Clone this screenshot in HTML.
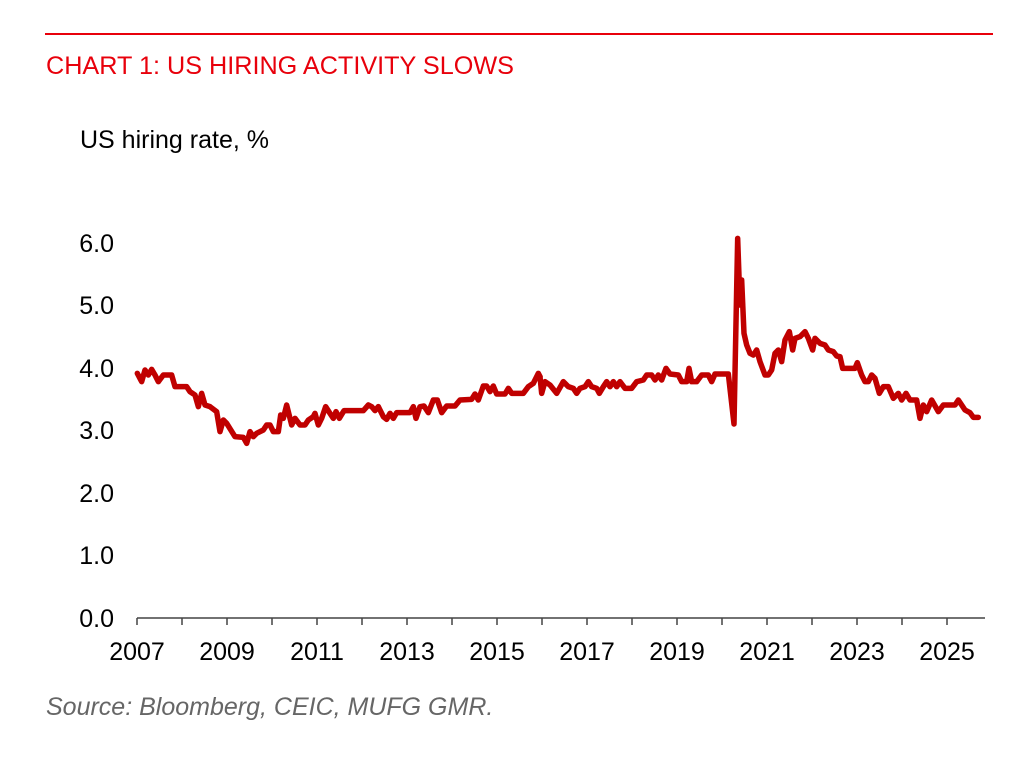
<!DOCTYPE html>
<html><head><meta charset="utf-8"><style>
body{margin:0;background:#fff;width:1022px;height:752px;overflow:hidden;font-family:"Liberation Sans",Arial,sans-serif}
</style></head><body>
<svg width="1022" height="752" xmlns="http://www.w3.org/2000/svg" font-family="Liberation Sans, Arial, sans-serif">
<line x1="45" y1="34" x2="993" y2="34" stroke="#e8000b" stroke-width="2"/>
<text x="46" y="74" font-size="25" fill="#e8000b" textLength="468" lengthAdjust="spacingAndGlyphs">CHART 1: US HIRING ACTIVITY SLOWS</text>
<text x="80" y="148" font-size="25" fill="#000">US hiring rate, %</text>
<g font-size="25" fill="#000" text-anchor="end">
<text x="114" y="252">6.0</text><text x="114" y="314">5.0</text><text x="114" y="377">4.0</text>
<text x="114" y="439">3.0</text><text x="114" y="502">2.0</text><text x="114" y="564">1.0</text><text x="114" y="627">0.0</text>
</g>
<line x1="137" y1="618" x2="985" y2="618" stroke="#444" stroke-width="1.5"/>
<g stroke="#444" stroke-width="1.5">
<line x1="137" y1="618" x2="137" y2="625"/><line x1="182" y1="618" x2="182" y2="625"/><line x1="227" y1="618" x2="227" y2="625"/><line x1="272" y1="618" x2="272" y2="625"/><line x1="317" y1="618" x2="317" y2="625"/><line x1="362" y1="618" x2="362" y2="625"/><line x1="407" y1="618" x2="407" y2="625"/><line x1="452" y1="618" x2="452" y2="625"/><line x1="497" y1="618" x2="497" y2="625"/><line x1="542" y1="618" x2="542" y2="625"/><line x1="587" y1="618" x2="587" y2="625"/><line x1="632" y1="618" x2="632" y2="625"/><line x1="677" y1="618" x2="677" y2="625"/><line x1="722" y1="618" x2="722" y2="625"/><line x1="767" y1="618" x2="767" y2="625"/><line x1="812" y1="618" x2="812" y2="625"/><line x1="857" y1="618" x2="857" y2="625"/><line x1="902" y1="618" x2="902" y2="625"/><line x1="947" y1="618" x2="947" y2="625"/>
</g>
<g font-size="25" fill="#000" text-anchor="middle">
<text x="137" y="660">2007</text><text x="227" y="660">2009</text><text x="317" y="660">2011</text><text x="407" y="660">2013</text><text x="497" y="660">2015</text><text x="587" y="660">2017</text><text x="677" y="660">2019</text><text x="767" y="660">2021</text><text x="857" y="660">2023</text><text x="947" y="660">2025</text>
</g>
<g fill="none" stroke="#c00000" stroke-width="5.5" stroke-linejoin="round" stroke-linecap="round">
<g transform="translate(120,340) scale(0.33333)">
<polyline vector-effect="non-scaling-stroke" points="52,100 65,125 75,90 85,105 95,88 105,105 115,125 130,105 155,105 165,140 200,140 210,155 225,165 235,200 245,160 255,195 270,200 290,215 300,275 310,240 320,250 345,290 370,292 380,310 390,275 400,290 410,280 430,270 440,255 450,255 460,275 475,275 482,225 490,235 500,195 515,255 525,235 540,255 555,255 565,240 580,230 585,220 595,255 605,235 617,200 630,220 640,235 648,215 658,235 672,212 730,212 745,195 755,200 765,212 775,200 790,230 800,238 810,220 820,235 830,218 870,218 880,200 888,235 900,200 912,198 925,218 940,180 952,180 965,218 980,198 1005,198 1020,180 1055,178 1065,162 1075,180 1090,138 1100,138 1110,155 1120,138 1130,162 1155,162 1165,145 1175,160 1210,160 1225,140 1240,130 1255,100 1260,110"/>
</g>
<g transform="translate(540,220) scale(0.33333)">
<polyline vector-effect="non-scaling-stroke" points="0,470 5,520 15,485 30,495 50,520 70,485 85,500 100,505 110,520 120,505 135,500 145,485 155,500 170,505 178,520 190,500 200,485 210,500 220,485 230,500 240,485 255,505 275,505 290,485 310,480 320,465 335,465 345,480 355,465 365,480 378,445 390,462 415,465 425,485 440,485 447,445 455,485 470,485 485,465 505,465 515,485 525,462 565,462 575,550 582,612 593,55 600,255 605,180 612,340 620,375 630,400 640,405 650,390 660,425 675,465 685,465 695,450 705,400 715,390 725,425 735,360 748,335 758,390 765,355 780,350 795,335 805,355 818,390 825,355 840,370 855,375 865,390 880,395 890,408 900,410 908,445 945,445 952,428 965,465 975,485 985,485 995,465 1005,475 1018,520 1030,500 1045,500 1060,535 1075,520 1085,540 1098,520 1110,540 1130,540 1140,595 1150,555 1160,575 1175,540 1195,575 1210,555 1245,555 1255,540 1275,570 1290,578 1300,592 1315,592"/>
</g>
</g>
<text x="46" y="715" font-size="25" font-style="italic" fill="#666">Source: Bloomberg, CEIC, MUFG GMR.</text>
</svg>
</body></html>
